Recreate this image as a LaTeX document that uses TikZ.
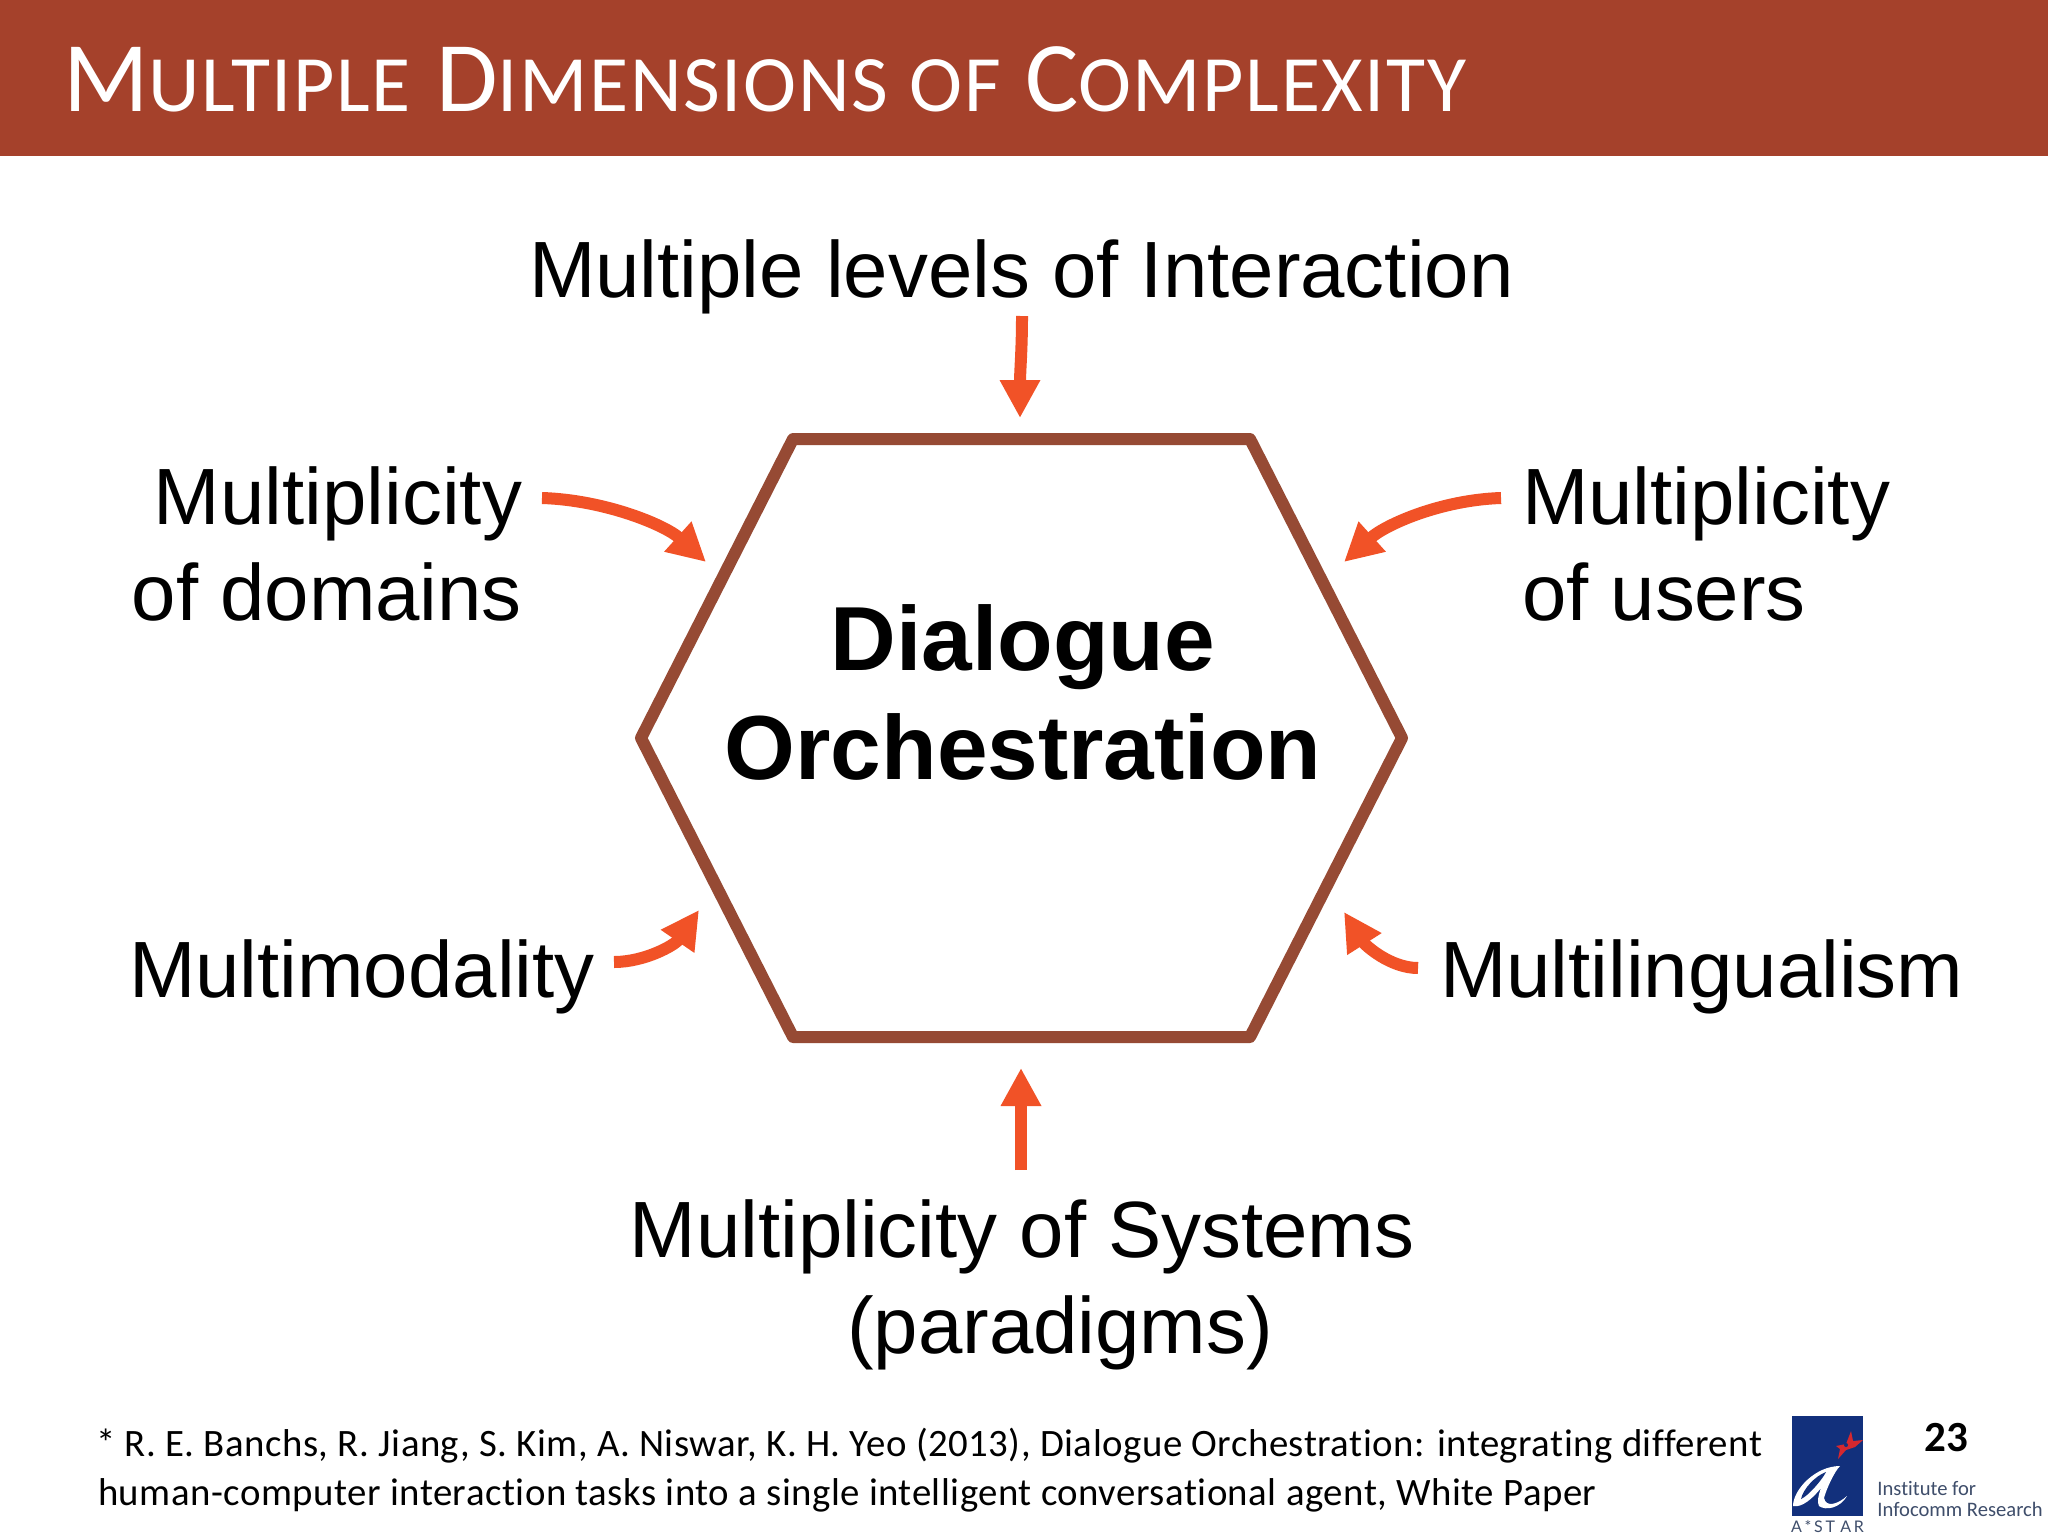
\documentclass[tikz,border=0pt]{standalone}
\usepackage{fontspec}
\setmainfont{Liberation Sans}
\newfontfamily\carlito[Ligatures=NoCommon]{Carlito}
\newfontfamily\carlitotitle[Ligatures=NoCommon,LetterSpace=2.0]{Carlito}
\newfontfamily\carlitofoot[Ligatures=NoCommon,LetterSpace=1.3]{Carlito}
\newfontfamily\lato{Lato}
\usetikzlibrary{arrows.meta}
\definecolor{headerred}{HTML}{A5412B}
\definecolor{hexbrown}{HTML}{964A34}
\definecolor{arroworange}{HTML}{F15227}
\definecolor{logoblue}{HTML}{12307C}
\definecolor{logored}{HTML}{D5282F}
\definecolor{logotext}{HTML}{3F4E6B}
\tikzset{
  x=0.5pt,y=-0.5pt,
  label/.style={inner sep=0pt,outer sep=0pt,font=\fontsize{39.9}{47.7}\selectfont},
  push/.style={draw=arroworange,line width=6pt,-{Triangle[length=19pt,width=19pt]}},
  foot/.style={inner sep=0pt,outer sep=0pt,font=\carlitofoot\fontsize{19.4}{24.5}\selectfont},
}
\newcommand{\bigc}{\fontsize{50}{52}\selectfont}
\newcommand{\smc}{\fontsize{40}{52}\selectfont}
\begin{document}
\begin{tikzpicture}
\useasboundingbox (0,0) rectangle (2048,1536);
\fill[white] (0,0) rectangle (2048,1536);
\fill[headerred] (0,0) rectangle (2048,156);
\node[inner sep=0pt,anchor=base west,text=white,font=\carlitotitle] (title) at (63,112)
  {\bigc M\smc ULTIPLE\hspace{3pt} \bigc D\smc IMENSIONS\hspace{1pt} OF\hspace{2pt} \bigc C\smc OMPLEXITY};
% hexagon
\coordinate (h1) at (793,439);
\coordinate (h2) at (1250,439);
\coordinate (h3) at (1402,738);
\coordinate (h4) at (1250,1037);
\coordinate (h5) at (793,1037);
\coordinate (h6) at (641,738);
\draw[hexbrown,line width=6pt,line join=round] (h1)--(h2)--(h3)--(h4)--(h5)--(h6)--cycle;
\node[inner sep=0pt,align=center,font=\bfseries\fontsize{45.5}{54.5}\selectfont] (center) at (1023,692) {Dialogue\\Orchestration};
% labels
\node[label,anchor=base west] (top) at (529,297) {Multiple levels of Interaction};
\node[label,anchor=east,align=right] (dom) at (522,544) {Multiplicity\\of domains};
\node[label,anchor=west,align=left] (usr) at (1522,544) {Multiplicity\\of users};
\node[label,anchor=base west] (mod) at (129,997) {Multimodality};
\node[label,anchor=base west] (lin) at (1440,997) {Multilingualism};
\node[label,anchor=center,align=center] (sys) at (1022,1285) {Multiplicity of Systems\\\hspace*{38pt}(paradigms)};
% arrow ends
\coordinate (a1s) at (1022,316); \coordinate (a1e) at (1020,418);
\coordinate (a2s) at (542,498);  \coordinate (a2e) at (706,562);
\coordinate (a3s) at (1501,498); \coordinate (a3e) at (1344,562);
\coordinate (a4s) at (614,962);  \coordinate (a4e) at (699,910);
\coordinate (a5s) at (1418,968); \coordinate (a5e) at (1344,912);
\coordinate (a6s) at (1021,1170);\coordinate (a6e) at (1021,1068);
\draw[push] (a1s) .. controls (1022,350) and (1020,370) .. (a1e);
\draw[push] (a2s) .. controls (605,500) and (665,525) .. (a2e);
\draw[push] (a3s) .. controls (1440,500) and (1385,525) .. (a3e);
\draw[push] (a4s) .. controls (645,962) and (675,945) .. (a4e);
\draw[push] (a5s) .. controls (1390,968) and (1365,945) .. (a5e);
\draw[push] (a6s) -- (a6e);
% footnote
\node[foot,anchor=base west] (f1) at (96,1456) {* R. E. Banchs, R. Jiang, S. Kim, A. Niswar, K. H. Yeo (2013), Dialogue Orchestration: integrating different};
\node[foot,anchor=base west] (f2) at (98,1505) {human-computer interaction tasks into a single intelligent conversational agent, White Paper};
\node[inner sep=0pt,anchor=base,font=\carlito\bfseries\fontsize{21.5}{24}\selectfont] (page) at (1946,1451) {23};
% logo
\fill[logoblue] (1792,1416) rectangle (1863,1516);
\fill[logored] (1851,1431) -- (1853,1441) -- (1863,1440) -- (1855,1447) -- (1846,1450) -- (1838,1459) -- (1840,1449) -- (1836,1446) -- (1846,1444) -- cycle;
\fill[logoblue] (1846,1445) circle (2);
\fill[white] (1793,1506) .. controls (1793,1490) and (1815,1466) .. (1840,1466)
  .. controls (1834,1472) and (1826,1490) .. (1824,1498)
  .. controls (1826,1508) and (1838,1504) .. (1847,1496)
  .. controls (1840,1508) and (1826,1511) .. (1819,1506)
  .. controls (1817,1502) and (1818,1496) .. (1821,1488)
  .. controls (1813,1498) and (1802,1508) .. (1793,1506) -- cycle;
\fill[logoblue] (1801,1499) .. controls (1803,1489) and (1815,1476) .. (1826,1472)
  .. controls (1822,1480) and (1808,1496) .. (1801,1499) -- cycle;
\node[inner sep=0pt,anchor=base,text=logotext,font=\lato\fontsize{8}{9}\selectfont] (astar) at (1827.5,1532) {A\,*\,S\,T\,\,A\,R};
\node[inner sep=0pt,anchor=base west,text=logotext,font=\carlito\fontsize{10.3}{13}\selectfont] (inst1) at (1877,1495) {Institute for};
\node[inner sep=0pt,anchor=base west,text=logotext,font=\carlito\fontsize{10.3}{13}\selectfont] (inst2) at (1877,1516) {Infocomm Research};
\end{tikzpicture}
\end{document}
